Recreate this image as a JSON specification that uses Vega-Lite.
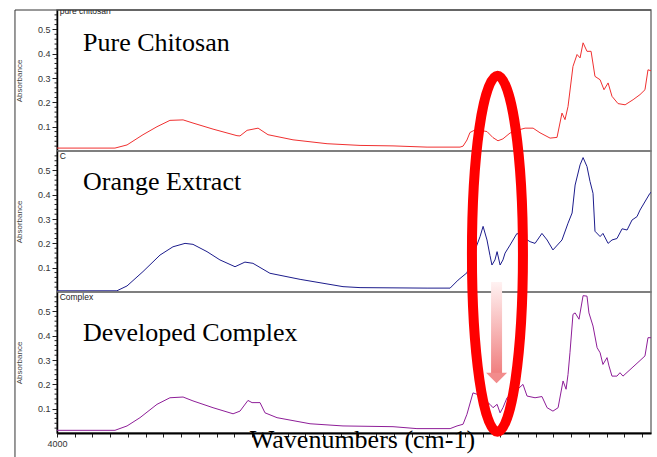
{
  "$schema": "https://vega.github.io/schema/vega-lite/v6.json",
  "padding": {"left": 13, "top": 8, "right": 6, "bottom": 0},
  "background": "white",
  "spacing": 0,
  "bounds": "flush",
  "config": {
    "view": {"stroke": "#777", "strokeWidth": 1.5},
    "font": "Liberation Sans",
    "axis": {"grid": false, "labelColor": "#333", "titleColor": "#444", "domainColor": "#000", "tickColor": "#222", "titleFontWeight": "normal"}
  },
  "datasets": {
    "minor": [{"v":0.02},{"v":0.04},{"v":0.06},{"v":0.08},{"v":0.12},{"v":0.14},{"v":0.16},{"v":0.18},{"v":0.22},{"v":0.24},{"v":0.26},{"v":0.28},{"v":0.32},{"v":0.34},{"v":0.36},{"v":0.38},{"v":0.42},{"v":0.44},{"v":0.46},{"v":0.48},{"v":0.52},{"v":0.54},{"v":0.56}],
    "chitosan": [
      {"wn":4000,"a":0.012},{"wn":3673,"a":0.012},{"wn":3605,"a":0.025},{"wn":3515,"a":0.067},{"wn":3436,"a":0.10},{"wn":3363,"a":0.126},{"wn":3289,"a":0.128},{"wn":3233,"a":0.115},{"wn":3120,"a":0.09},{"wn":2985,"a":0.063},{"wn":2968,"a":0.062},{"wn":2928,"a":0.085},{"wn":2866,"a":0.094},{"wn":2810,"a":0.067},{"wn":2669,"a":0.046},{"wn":2477,"a":0.03},{"wn":2291,"a":0.023},{"wn":2105,"a":0.021},{"wn":1913,"a":0.016},{"wn":1727,"a":0.016},{"wn":1710,"a":0.02},{"wn":1688,"a":0.045},{"wn":1671,"a":0.076},{"wn":1642,"a":0.087},{"wn":1614,"a":0.085},{"wn":1575,"a":0.08},{"wn":1541,"a":0.055},{"wn":1513,"a":0.042},{"wn":1485,"a":0.05},{"wn":1445,"a":0.074},{"wn":1406,"a":0.085},{"wn":1360,"a":0.094},{"wn":1315,"a":0.094},{"wn":1276,"a":0.075},{"wn":1219,"a":0.053},{"wn":1180,"a":0.056},{"wn":1152,"a":0.156},{"wn":1135,"a":0.129},{"wn":1118,"a":0.183},{"wn":1090,"a":0.348},{"wn":1067,"a":0.397},{"wn":1050,"a":0.383},{"wn":1033,"a":0.445},{"wn":1011,"a":0.41},{"wn":988,"a":0.41},{"wn":966,"a":0.307},{"wn":937,"a":0.293},{"wn":915,"a":0.252},{"wn":892,"a":0.28},{"wn":870,"a":0.225},{"wn":836,"a":0.195},{"wn":796,"a":0.19},{"wn":751,"a":0.211},{"wn":712,"a":0.232},{"wn":684,"a":0.252},{"wn":667,"a":0.334},{"wn":650,"a":0.33}
    ],
    "orange": [
      {"wn":4000,"a":0.005},{"wn":3662,"a":0.005},{"wn":3605,"a":0.025},{"wn":3515,"a":0.084},{"wn":3419,"a":0.152},{"wn":3346,"a":0.186},{"wn":3278,"a":0.2},{"wn":3233,"a":0.196},{"wn":3154,"a":0.166},{"wn":3081,"a":0.132},{"wn":2996,"a":0.104},{"wn":2940,"a":0.123},{"wn":2895,"a":0.118},{"wn":2799,"a":0.077},{"wn":2629,"a":0.052},{"wn":2387,"a":0.022},{"wn":2291,"a":0.018},{"wn":1913,"a":0.016},{"wn":1783,"a":0.016},{"wn":1738,"a":0.049},{"wn":1688,"a":0.079},{"wn":1654,"a":0.15},{"wn":1614,"a":0.228},{"wn":1597,"a":0.27},{"wn":1575,"a":0.214},{"wn":1558,"a":0.15},{"wn":1547,"a":0.111},{"wn":1530,"a":0.132},{"wn":1518,"a":0.166},{"wn":1501,"a":0.111},{"wn":1485,"a":0.132},{"wn":1473,"a":0.16},{"wn":1445,"a":0.193},{"wn":1406,"a":0.241},{"wn":1372,"a":0.225},{"wn":1332,"a":0.207},{"wn":1304,"a":0.2},{"wn":1265,"a":0.241},{"wn":1236,"a":0.214},{"wn":1203,"a":0.173},{"wn":1152,"a":0.214},{"wn":1118,"a":0.283},{"wn":1095,"a":0.325},{"wn":1078,"a":0.44},{"wn":1050,"a":0.523},{"wn":1033,"a":0.553},{"wn":1011,"a":0.516},{"wn":994,"a":0.455},{"wn":977,"a":0.406},{"wn":966,"a":0.25},{"wn":937,"a":0.228},{"wn":921,"a":0.241},{"wn":892,"a":0.2},{"wn":870,"a":0.214},{"wn":842,"a":0.22},{"wn":813,"a":0.26},{"wn":785,"a":0.255},{"wn":757,"a":0.296},{"wn":729,"a":0.31},{"wn":712,"a":0.337},{"wn":656,"a":0.406},{"wn":650,"a":0.41}
    ],
    "complex": [
      {"wn":4000,"a":0.011},{"wn":3673,"a":0.011},{"wn":3605,"a":0.029},{"wn":3532,"a":0.063},{"wn":3436,"a":0.118},{"wn":3363,"a":0.145},{"wn":3289,"a":0.148},{"wn":3233,"a":0.132},{"wn":3120,"a":0.104},{"wn":3007,"a":0.079},{"wn":2968,"a":0.09},{"wn":2923,"a":0.134},{"wn":2900,"a":0.125},{"wn":2855,"a":0.125},{"wn":2827,"a":0.083},{"wn":2759,"a":0.063},{"wn":2573,"a":0.038},{"wn":2387,"a":0.029},{"wn":2105,"a":0.026},{"wn":1970,"a":0.018},{"wn":1783,"a":0.018},{"wn":1744,"a":0.029},{"wn":1710,"a":0.036},{"wn":1688,"a":0.077},{"wn":1654,"a":0.165},{"wn":1626,"a":0.158},{"wn":1597,"a":0.14},{"wn":1558,"a":0.118},{"wn":1541,"a":0.104},{"wn":1518,"a":0.118},{"wn":1501,"a":0.083},{"wn":1485,"a":0.104},{"wn":1462,"a":0.145},{"wn":1417,"a":0.17},{"wn":1372,"a":0.2},{"wn":1349,"a":0.152},{"wn":1304,"a":0.145},{"wn":1265,"a":0.15},{"wn":1236,"a":0.104},{"wn":1203,"a":0.09},{"wn":1174,"a":0.104},{"wn":1146,"a":0.214},{"wn":1129,"a":0.18},{"wn":1118,"a":0.241},{"wn":1107,"a":0.33},{"wn":1090,"a":0.488},{"wn":1078,"a":0.494},{"wn":1056,"a":0.468},{"wn":1033,"a":0.565},{"wn":1011,"a":0.563},{"wn":1000,"a":0.494},{"wn":977,"a":0.44},{"wn":954,"a":0.351},{"wn":937,"a":0.33},{"wn":921,"a":0.282},{"wn":898,"a":0.31},{"wn":887,"a":0.276},{"wn":870,"a":0.234},{"wn":842,"a":0.234},{"wn":825,"a":0.248},{"wn":808,"a":0.234},{"wn":757,"a":0.268},{"wn":712,"a":0.298},{"wn":684,"a":0.317},{"wn":667,"a":0.392},{"wn":650,"a":0.392}
    ]
  },
  "vconcat": [
    {
      "width": 594, "height": 141,
      "layer": [
        {
          "data": {"name": "chitosan"},
          "mark": {"type": "line", "color": "#f03030", "strokeWidth": 1},
          "encoding": {
            "x": {"field": "wn", "type": "quantitative", "scale": {"domain": [650, 4000], "reverse": true, "nice": false, "zero": false}, "axis": null},
            "y": {"field": "a", "type": "quantitative", "scale": {"domain": [0, 0.58], "nice": false}, "axis": {"title": "Absorbance", "titleFontSize": 8, "titlePadding": 14, "labelFontSize": 9, "labelPadding": 2, "labelOverlap": false, "format": ".1f", "values": [0.1,0.2,0.3,0.4,0.5], "tickCount": 100, "tickSize": 5, "domainWidth": 1.5}}
          }
        },
        {
          "data": {"name": "minor"},
          "mark": {"type": "rule", "color": "#222", "strokeWidth": 1},
          "encoding": {"x": {"datum": 4000, "type": "quantitative"}, "x2": {"datum": 4014}, "y": {"field": "v", "type": "quantitative"}}
        },
        {
          "data": {"values": [{}]},
          "mark": {"type": "text", "font": "Liberation Serif", "fontSize": 26, "align": "left", "baseline": "alphabetic", "color": "#000"},
          "encoding": {"x": {"datum": 3853, "type": "quantitative"}, "y": {"datum": 0.413, "type": "quantitative"}, "text": {"value": "Pure Chitosan"}}
        },
        {
          "data": {"values": [{}]},
          "mark": {"type": "text", "fontSize": 8.5, "align": "left", "baseline": "middle", "color": "#222", "clip": true},
          "encoding": {"x": {"datum": 3985, "type": "quantitative"}, "y": {"datum": 0.575, "type": "quantitative"}, "text": {"value": "pure chitosan"}}
        },
        {
          "data": {"values": [{}]},
          "mark": {"type": "rule", "color": "#333", "strokeWidth": 1},
          "encoding": {"x": {"datum": 4237, "type": "quantitative"}, "x2": {"datum": 650}, "y": {"datum": 0.58, "type": "quantitative"}}
        },
        {
          "data": {"values": [{}]},
          "mark": {"type": "rule", "color": "#333", "strokeWidth": 1},
          "encoding": {"x": {"datum": 4237, "type": "quantitative"}, "y": {"datum": 0.58, "type": "quantitative"}, "y2": {"datum": -1.26}}
        }
      ]
    },
    {
      "width": 594, "height": 141,
      "layer": [
        {
          "data": {"name": "orange"},
          "mark": {"type": "line", "color": "#1c1c8c", "strokeWidth": 1},
          "encoding": {
            "x": {"field": "wn", "type": "quantitative", "scale": {"domain": [650, 4000], "reverse": true, "nice": false, "zero": false}, "axis": null},
            "y": {"field": "a", "type": "quantitative", "scale": {"domain": [0, 0.58], "nice": false}, "axis": {"title": "Absorbance", "titleFontSize": 8, "titlePadding": 14, "labelFontSize": 9, "labelPadding": 2, "labelOverlap": false, "format": ".1f", "values": [0.1,0.2,0.3,0.4,0.5], "tickCount": 100, "tickSize": 5, "domainWidth": 1.5}}
          }
        },
        {
          "data": {"name": "minor"},
          "mark": {"type": "rule", "color": "#222", "strokeWidth": 1},
          "encoding": {"x": {"datum": 4000, "type": "quantitative"}, "x2": {"datum": 4014}, "y": {"field": "v", "type": "quantitative"}}
        },
        {
          "data": {"values": [{}]},
          "mark": {"type": "text", "font": "Liberation Serif", "fontSize": 26, "align": "left", "baseline": "alphabetic", "color": "#000"},
          "encoding": {"x": {"datum": 3853, "type": "quantitative"}, "y": {"datum": 0.42, "type": "quantitative"}, "text": {"value": "Orange Extract"}}
        },
        {
          "data": {"values": [{}]},
          "mark": {"type": "text", "fontSize": 8.5, "align": "left", "baseline": "top", "color": "#222", "dy": 1},
          "encoding": {"x": {"datum": 3985, "type": "quantitative"}, "y": {"datum": 0.58, "type": "quantitative"}, "text": {"value": "C"}}
        }
      ]
    },
    {
      "width": 594, "height": 141,
      "layer": [
        {
          "data": {"name": "complex"},
          "mark": {"type": "line", "color": "#8e1e98", "strokeWidth": 1},
          "encoding": {
            "x": {"field": "wn", "type": "quantitative", "scale": {"domain": [650, 4000], "reverse": true, "nice": false, "zero": false}, "axis": {"title": "Wavenumbers (cm-1)", "titleFont": "Liberation Serif", "titleFontSize": 26, "titleColor": "#000", "titleBaseline": "alphabetic", "titlePadding": -1, "titleX": 305, "values": [4000,3900,3800,3700,3600,3500,3400,3300,3200,3100,3000,2900,2800,2700,2600,2500,2400,2300,2200,2100,2000,1900,1800,1700,1600,1500,1400,1300,1200,1100,1000,900,800,700], "tickCount": 100, "labelExpr": "datum.value === 4000 ? '4000' : ''", "labelFlush": false, "labelOverlap": false, "labelFontSize": 9, "labelPadding": 2, "tickSize": 4, "domainWidth": 2}},
            "y": {"field": "a", "type": "quantitative", "scale": {"domain": [0, 0.58], "nice": false}, "axis": {"title": "Absorbance", "titleFontSize": 8, "titlePadding": 14, "labelFontSize": 9, "labelPadding": 2, "labelOverlap": false, "format": ".1f", "values": [0.1,0.2,0.3,0.4,0.5], "tickCount": 100, "tickSize": 5, "domainWidth": 1.5}}
          }
        },
        {
          "data": {"name": "minor"},
          "mark": {"type": "rule", "color": "#222", "strokeWidth": 1},
          "encoding": {"x": {"datum": 4000, "type": "quantitative"}, "x2": {"datum": 4014}, "y": {"field": "v", "type": "quantitative"}}
        },
        {
          "data": {"values": [{}]},
          "mark": {"type": "text", "font": "Liberation Serif", "fontSize": 26, "align": "left", "baseline": "alphabetic", "color": "#000"},
          "encoding": {"x": {"datum": 3853, "type": "quantitative"}, "y": {"datum": 0.379, "type": "quantitative"}, "text": {"value": "Developed Complex"}}
        },
        {
          "data": {"values": [{}]},
          "mark": {"type": "text", "fontSize": 8.5, "align": "left", "baseline": "top", "color": "#222", "dy": 1},
          "encoding": {"x": {"datum": 3985, "type": "quantitative"}, "y": {"datum": 0.58, "type": "quantitative"}, "text": {"value": "Complex"}}
        },
        {
          "data": {"values": [{}]},
          "mark": {"type": "rect", "fill": {"gradient": "linear", "x1": 0, "y1": 0, "x2": 0, "y2": 1, "stops": [{"offset": 0, "color": "#fff2f2"}, {"offset": 1, "color": "#f08080"}]}},
          "encoding": {"x": {"datum": 1552, "type": "quantitative"}, "x2": {"datum": 1490}, "y": {"datum": 0.621, "type": "quantitative"}, "y2": {"datum": 0.247}}
        },
        {
          "data": {"values": [{}]},
          "mark": {"type": "point", "shape": "M-1,-0.5L1,-0.5L0,0.5Z", "size": 441, "filled": true, "fill": "#f28c8c", "opacity": 1, "strokeWidth": 0},
          "encoding": {"x": {"datum": 1521, "type": "quantitative"}, "y": {"datum": 0.226, "type": "quantitative"}}
        },
        {
          "data": {"values": [{}]},
          "mark": {"type": "point", "shape": "M0,-1C0.0791,-1,0.1433,-0.5523,0.1433,0C0.1433,0.5523,0.0791,1,0,1C-0.0791,1,-0.1433,0.5523,-0.1433,0C-0.1433,-0.5523,-0.0791,-1,0,-1Z", "size": 126736, "filled": false, "stroke": "#ff0000", "strokeWidth": 10, "opacity": 1},
          "encoding": {"x": {"datum": 1516, "type": "quantitative"}, "y": {"datum": 0.737, "type": "quantitative"}}
        }
      ]
    }
  ]
}
